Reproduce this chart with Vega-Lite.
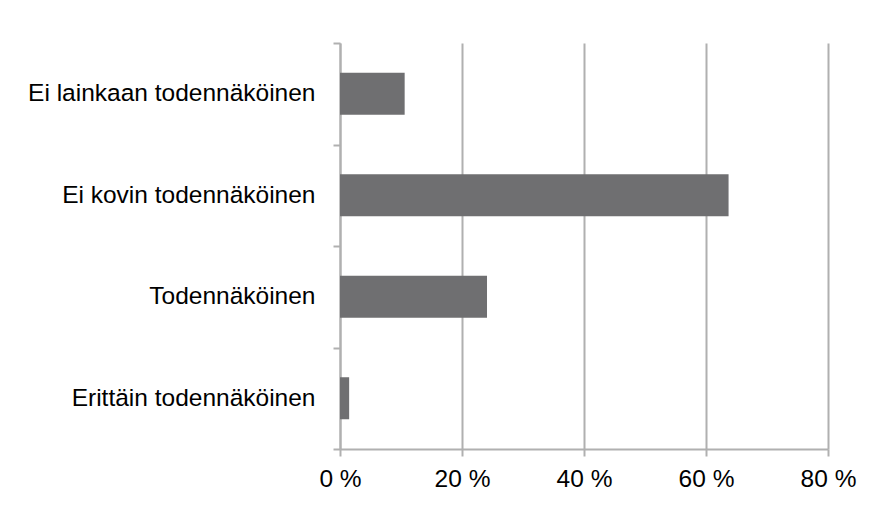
{
  "$schema": "https://vega.github.io/schema/vega-lite/v6.json",
  "autosize": "none",
  "width": 488,
  "height": 406,
  "padding": {"left": 340, "top": 43, "right": 49, "bottom": 56},
  "background": "white",
  "config": {
    "view": {"stroke": null},
    "font": "Liberation Sans"
  },
  "data": {
    "values": [
      {"category": "Ei lainkaan todennäköinen", "value": 10.6},
      {"category": "Ei kovin todennäköinen", "value": 63.7},
      {"category": "Todennäköinen", "value": 24.1},
      {"category": "Erittäin todennäköinen", "value": 1.5}
    ]
  },
  "mark": {"type": "bar", "color": "#6f6f71", "height": {"band": 0.414}},
  "encoding": {
    "y": {
      "field": "category",
      "type": "nominal",
      "sort": null,
      "title": null,
      "scale": {"paddingInner": 0, "paddingOuter": 0},
      "axis": {
        "domainColor": "#b0b0b0",
        "domainWidth": 2,
        "tickColor": "#b0b0b0",
        "tickWidth": 2,
        "tickSize": 7,
        "tickBand": "extent",
        "labelFontSize": 24.5,
        "labelColor": "#000000",
        "labelPadding": 18,
        "labelLimit": 400,
        "grid": false
      }
    },
    "x": {
      "field": "value",
      "type": "quantitative",
      "title": null,
      "scale": {"domain": [0, 80], "nice": false},
      "axis": {
        "values": [0, 20, 40, 60, 80],
        "labelExpr": "datum.value + ' %'",
        "domainColor": "#b0b0b0",
        "domainWidth": 2,
        "tickColor": "#b0b0b0",
        "tickWidth": 2,
        "tickSize": 7,
        "gridColor": "#b0b0b0",
        "gridWidth": 2,
        "labelFontSize": 24.5,
        "labelColor": "#000000",
        "labelPadding": 11,
        "labelFlush": false
      }
    }
  }
}
